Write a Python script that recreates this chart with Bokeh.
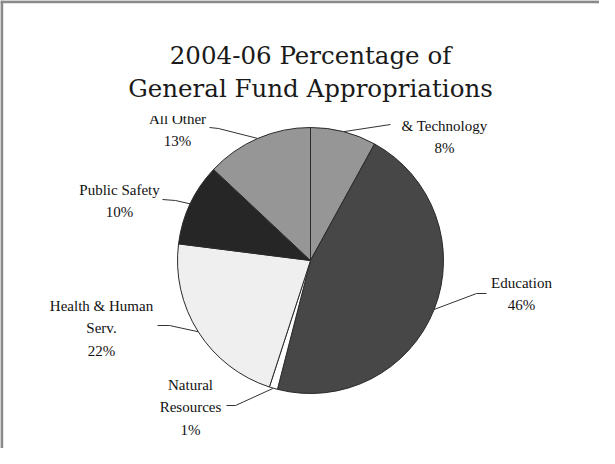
import math
from bokeh.plotting import figure
from bokeh.models import Range1d, ColumnDataSource
from bokeh.embed import file_html
from bokeh.resources import INLINE
from bokeh.core.properties import value

# ---- data ----
categories = ["& Technology", "Education", "Natural Resources",
              "Health & Human Serv.", "Public Safety", "All Other"]
percent = [8, 46, 1, 22, 10, 13]
label_lines = [["& Technology", "8%"], ["Education", "46%"],
               ["Natural", "Resources", "1%"], ["Health & Human", "Serv.", "22%"],
               ["Public Safety", "10%"], ["All Other", "13%"]]
colors = ["#969696", "#474747", "#ffffff", "#efefef", "#262626", "#969696"]
title_lines = ["2004-06 Percentage of", "General Fund Appropriations"]

# ---- layout (page pixel positions of the reference) ----
W, H = 599, 448
def fx(px): return px - 8
def fy(py): return H + 8 - py

CX, CY, R = fx(318), fy(268), 133
label_pos = [(452, 133), (529, 290), (198, 392), (109, 313), (127, 197), (185, 126)]
leader_pts = [[(398, 132)], [(484, 301), (494, 301)], [(243, 413), (234, 413)],
              [(177, 333), (165, 333)], [(183, 208), (170, 207)], [(226, 136), (217, 135)]]
LINE_H = 22.5

p = figure(width=W, height=H, x_range=Range1d(0, W), y_range=Range1d(0, H),
           output_backend="svg", toolbar_location=None, min_border=0,
           x_axis_location=None, y_axis_location=None, outline_line_color=None,
           background_fill_color="white", border_fill_color="white")
p.grid.visible = False

total = float(sum(percent))
starts, ends, mids = [], [], []
cum = 0.0
for v in percent:
    a0 = math.pi / 2 - 2 * math.pi * cum / total
    cum += v
    a1 = math.pi / 2 - 2 * math.pi * cum / total
    starts.append(a0); ends.append(a1); mids.append((a0 + a1) / 2)

src = ColumnDataSource(dict(start=starts, end=ends, color=colors, name=categories))
p.wedge(x=CX, y=CY, radius=R, start_angle="start", end_angle="end", direction="clock",
        fill_color="color", line_color="#2a2a2a", line_width=1, source=src)

# leader lines from slice mid-angle on the rim to the label
xs, ys = [], []
for m, pts in zip(mids, leader_pts):
    lx = [CX + R * math.cos(m)] + [fx(a) for a, b in pts]
    ly = [CY + R * math.sin(m)] + [fy(b) for a, b in pts]
    xs.append(lx); ys.append(ly)
p.multi_line(xs=xs, ys=ys, line_color="#333333", line_width=1)

# labels
tx, ty, tt = [], [], []
for (px, py), lines in zip(label_pos, label_lines):
    for i, s in enumerate(lines):
        tx.append(fx(px)); ty.append(fy(py + i * LINE_H)); tt.append(s)
p.text(x=tx, y=ty, text=tt, text_align="center", text_baseline="middle",
       text_font=value("Liberation Serif"), text_font_size="15px", text_color="#111111")

# top of "All Other" is cut off in the reference
p.quad(left=fx(150), right=fx(222), top=fy(100), bottom=fy(123.5),
       fill_color="white", line_color=None)

# title
p.text(x=[fx(318), fx(318)], y=[fy(63), fy(96)], text=title_lines,
       text_align="center", text_baseline="middle",
       text_font=value("DejaVu Serif"), text_font_size="24.5px", text_color="#1a1a1a")

# frame lines (left and top)
p.segment(x0=[1.2, 0], y0=[0, H - 1.2], x1=[1.2, W], y1=[H, H - 1.2],
          line_color="#8a8a8a", line_width=3)

open("out.html", "w").write(file_html(p, INLINE))
